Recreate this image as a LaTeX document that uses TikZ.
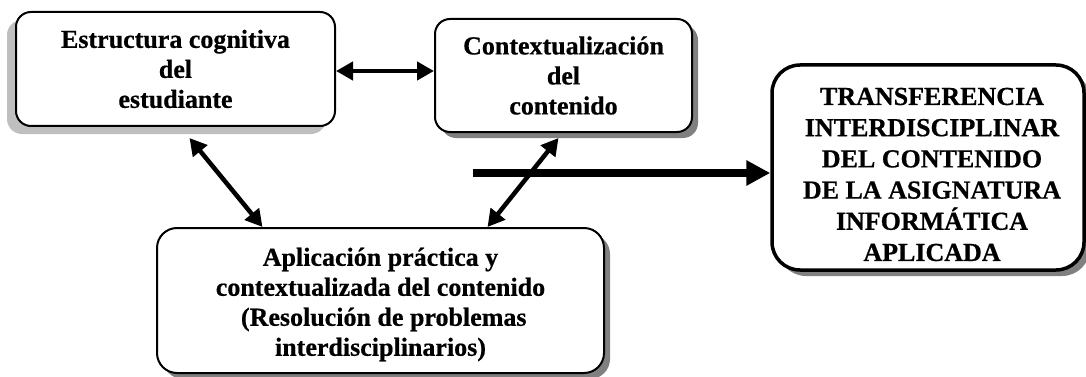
\documentclass[tikz,border=0pt]{standalone}
\usepackage{fontspec}
\setmainfont{Liberation Serif}[BoldFeatures={FakeBold=0.6}]
\usetikzlibrary{arrows.meta,shadows,calc}
\tikzset{
  box/.style={draw=black, line width=2pt, fill=white, rounded corners=15pt, align=center,
    font=\fontsize{26}{30}\selectfont\bfseries, inner sep=0pt},
  shR/.style={drop shadow={shadow xshift=6pt, shadow yshift=-6pt, fill=black!50, opacity=1}},
  shL/.style={drop shadow={shadow xshift=-9pt, shadow yshift=-8pt, fill=black!25, opacity=1}},
  dbl/.style={line width=4.5pt, {Triangle[length=17pt,width=18pt]}-{Triangle[length=17pt,width=18pt]}},
  big/.style={line width=8pt, -{Triangle[length=24pt,width=24pt]}}
}
\begin{document}
\begin{tikzpicture}[x=1pt,y=1pt]
\useasboundingbox (0,0) rectangle (1086,-377);
\node[box, shL, minimum width=319pt, minimum height=114pt] (b1) at (175.5,-69) {Estructura cognitiva\\del\\estudiante};
\node[box, shR, minimum width=257pt, minimum height=113pt] (b2) at (563.5,-75.5) {Contextualización\\del\\contenido};
\node[box, shR, line width=3.5pt, rounded corners=28pt, minimum width=312pt, minimum height=205pt] (b3) at (928,-167.5) {};
\node[font=\fontsize{26}{31.2}\selectfont\bfseries, align=center, inner sep=0pt] (t3) at ([xshift=4pt,yshift=-7pt]b3.center) {TRANSFERENCIA\\INTERDISCIPLINAR\\DEL CONTENIDO\\DE LA ASIGNATURA\\INFORMÁTICA\\APLICADA};
\node[box, shR, rounded corners=20pt, minimum width=447pt, minimum height=145pt] (b4) at (380.5,-300.5) {};
\node[font=\fontsize{26}{30}\selectfont\bfseries, align=center, inner sep=0pt] (t4) at ([yshift=-4pt]b4.center) {Aplicación práctica y\\contextualizada del contenido\\\ (Resolución de problemas\\interdisciplinarios)};
\coordinate (s) at (473,-173);
\draw[dbl] ([yshift=-2pt]b1.east) -- ([yshift=-2pt]b1.east -| b2.west);
\draw[dbl] ([xshift=14pt,yshift=-11pt]b1.south) -- ([xshift=-118pt]b4.north);
\draw[big] (s) -- (s -| b3.west);
\draw[dbl] ([xshift=-5pt,yshift=-5pt]b2.south) -- ([xshift=107pt]b4.north);
\end{tikzpicture}
\end{document}
